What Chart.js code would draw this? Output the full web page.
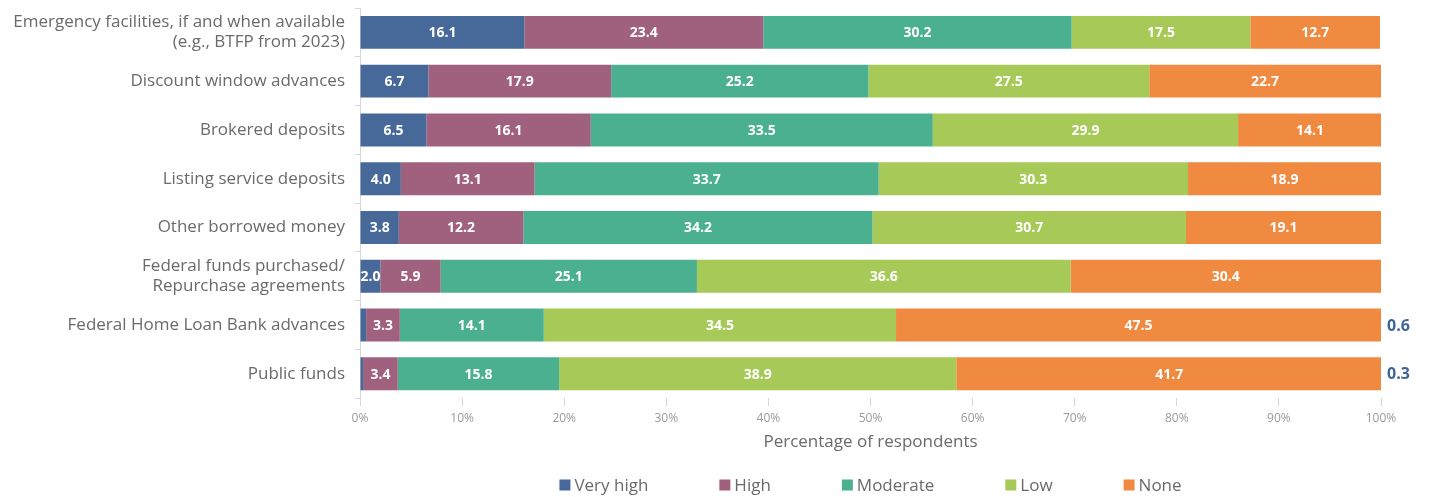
<!DOCTYPE html>
<html>
<head>
<meta charset="utf-8">
<script src="https://cdn.jsdelivr.net/npm/chart.js@4"></script>
<style>
  html, body { margin: 0; padding: 0; background: #fff; }
  #wrap { width: 1438px; height: 497px; position: relative; }
</style>
</head>
<body>
<div id="wrap"><canvas id="fundingChart"></canvas></div>
<script>
const categorias = [
  ['Emergency facilities, if and when available', '(e.g., BTFP from 2023)'],
  'Discount window advances',
  'Brokered deposits',
  'Listing service deposits',
  'Other borrowed money',
  ['Federal funds purchased/', 'Repurchase agreements'],
  'Federal Home Loan Bank advances',
  'Public funds'
];
const muitoAlto = [16.1, 6.7, 6.5, 4.0, 3.8, 2.0, 0.6, 0.3];
const alto = [23.4, 17.9, 16.1, 13.1, 12.2, 5.9, 3.3, 3.4];
const moderado = [30.2, 25.2, 33.5, 33.7, 34.2, 25.1, 14.1, 15.8];
const baixo = [17.5, 27.5, 29.9, 30.3, 30.7, 36.6, 34.5, 38.9];
const nenhum = [12.7, 22.7, 14.1, 18.9, 19.1, 30.4, 47.5, 41.7];
const xTicks = [0, 10, 20, 30, 40, 50, 60, 70, 80, 90, 100];

const FONT = "'Open Sans', 'Liberation Sans', sans-serif";

// escreve os valores dentro das barras (ou fora, se forem muito pequenos)
const rotulosValores = {
  id: 'rotulosValores',
  afterDatasetsDraw(chart) {
    const ctx = chart.ctx;
    ctx.save();
    ctx.textBaseline = 'middle';
    chart.data.datasets.forEach((ds, i) => {
      const meta = chart.getDatasetMeta(i);
      meta.data.forEach((bar, j) => {
        const v = ds.data[j];
        const txt = v.toFixed(1);
        if (v >= 1) {
          ctx.font = 'bold 14px ' + FONT;
          ctx.fillStyle = '#ffffff';
          ctx.textAlign = 'center';
          ctx.fillText(txt, (bar.x + bar.base) / 2, bar.y + 1);
        } else {
          ctx.font = 'bold 16px ' + FONT;
          ctx.fillStyle = '#3f6497';
          ctx.textAlign = 'left';
          ctx.fillText(txt, chart.chartArea.right + 6, bar.y + 1);
        }
      });
    });
    ctx.restore();
  }
};

// legenda desenhada à mão, centrada na área do gráfico
const legendaManual = {
  id: 'legendaManual',
  afterDraw(chart) {
    const ctx = chart.ctx;
    const area = chart.chartArea;
    const caixa = 11, espacoTexto = 4, espacoItem = 71;
    ctx.save();
    ctx.font = '17px ' + FONT;
    ctx.textBaseline = 'middle';
    ctx.textAlign = 'left';
    const itens = chart.data.datasets.map(ds => ({
      label: ds.label,
      cor: ds.backgroundColor,
      w: caixa + espacoTexto + ctx.measureText(ds.label).width
    }));
    const total = itens.reduce((s, it) => s + it.w, 0) + espacoItem * (itens.length - 1);
    let x = (area.left + area.right) / 2 - total / 2;
    const y = chart.height - 12;
    itens.forEach(it => {
      ctx.fillStyle = it.cor;
      ctx.fillRect(x, y - caixa / 2, caixa, caixa);
      ctx.fillStyle = '#6a6a6a';
      ctx.fillText(it.label, x + caixa + espacoTexto, y + 1);
      x += it.w + espacoItem;
    });
    ctx.restore();
  }
};

const ctx = document.getElementById('fundingChart').getContext('2d');
new Chart(ctx, {
  type: 'bar',
  data: {
    labels: categorias,
    datasets: [
      { label: 'Very high', data: muitoAlto, backgroundColor: '#46699a' },
      { label: 'High', data: alto, backgroundColor: '#a0617e' },
      { label: 'Moderate', data: moderado, backgroundColor: '#4bb08f' },
      { label: 'Low', data: baixo, backgroundColor: '#a6c957' },
      { label: 'None', data: nenhum, backgroundColor: '#f08a41' }
    ]
  },
  options: {
    indexAxis: 'y',
    responsive: true,
    maintainAspectRatio: false,
    animation: false,
    layout: { padding: { left: 0, right: 57, top: 8, bottom: 45 } },
    datasets: { bar: { barPercentage: 0.9, categoryPercentage: 0.75, borderWidth: 0 } },
    scales: {
      x: {
        stacked: true,
        min: 0,
        max: 100,
        afterBuildTicks: (scale) => { scale.ticks = xTicks.map(v => ({ value: v })); },
        ticks: {
          callback: (v) => v + '%',
          color: '#9a9a9a',
          font: { family: FONT, size: 12 },
          padding: 5,
          maxRotation: 0
        },
        grid: { drawOnChartArea: false, drawTicks: true, tickLength: 8, color: '#d6d6d6' },
        border: { display: false },
        title: {
          display: true,
          text: 'Percentage of respondents',
          color: '#6a6a6a',
          font: { family: FONT, size: 17 },
          padding: { top: 1, bottom: 0 }
        }
      },
      y: {
        stacked: true,
        afterFit: (scale) => {
          scale.width = 360;
          scale.paddingTop = 0;
          scale.paddingBottom = 0;
        },
        ticks: {
          color: '#6a6a6a',
          font: { family: FONT, size: 17, lineHeight: 1.2 },
          padding: 10
        },
        grid: { drawOnChartArea: false, drawTicks: true, tickLength: 5, color: '#d6d6d6' },
        border: { display: true, color: '#d6d6d6' }
      }
    },
    plugins: {
      legend: { display: false },
      tooltip: { enabled: false }
    }
  },
  plugins: [rotulosValores, legendaManual]
});
</script>
</body>
</html>
